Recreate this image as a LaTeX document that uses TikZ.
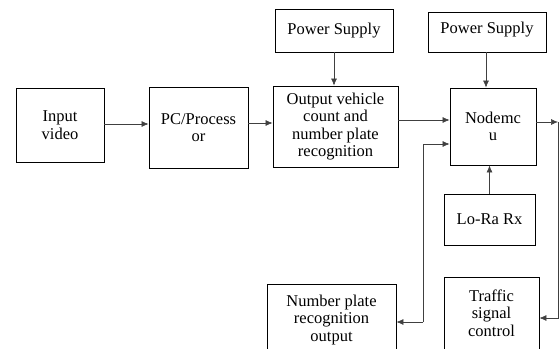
\documentclass[tikz,border=0pt]{standalone}
\usepackage{fontspec}
\setmainfont{Liberation Serif}
\usetikzlibrary{arrows.meta}
\begin{document}
\begin{tikzpicture}[x=1pt,y=-1pt]
	\tikzstyle{block}=[draw=black,line width=0.9pt,align=center,inner sep=0pt,font=\fontsize{16.5}{17.6}\selectfont]
	\tikzstyle{wire}=[draw=black!75,line width=0.6pt,-{Latex[length=7pt,width=6pt]}]
	\clip (0,0) rectangle (559,348);
	% blocks
	\node [block,minimum width=88pt,minimum height=74pt] (input) at (60,125) {Input\\video};
	\node [block,minimum width=99pt,minimum height=81pt] (pc) at (198.5,127.5) {PC/Process\\or};
	\node [block,minimum width=125pt,minimum height=81pt] (out) at (335.5,126.5) {Output vehicle\\count and\\number plate\\recognition};
	\node [block,minimum width=118pt,minimum height=43pt] (psa) at (334,30.5) {Power Supply};
	\node [block,minimum width=118pt,minimum height=40pt,text depth=8pt] (psb) at (487,32) {Power Supply};
	\node [block,minimum width=86pt,minimum height=77pt] (mcu) at (493,126.5) {Nodemc\\u};
	\node [block,minimum width=91pt,minimum height=51pt] (lora) at (489.5,219.5) {Lo-Ra Rx};
	\node [block,minimum width=129pt,minimum height=72pt] (npr) at (331.5,320) {Number plate\\recognition\\output};
	\node [block,minimum width=95pt,minimum height=72pt] (tsc) at (491.5,313) {Traffic\\signal\\control};
	% corners of the return lines
	\coordinate (mcuout) at (558,122);
	\coordinate (split) at (423,322);
	% connectors
	\draw [wire] (input.east |- 0,124) -- (pc.west |- 0,124);
	\draw [wire] (pc.east |- 0,123) -- (out.west |- 0,123);
	\draw [wire] (out.east |- 0,120) -- (mcu.west |- 0,120);
	\draw [wire] (psa) -- (psa |- out.north) ;
	\draw [wire] (psb.south -| 486,0) -- (mcu.north -| 486,0);
	\draw [wire] (lora.north) -- (mcu.south -| lora.north);
	\draw [wire] (mcu.east |- mcuout) -- (mcuout);
	\draw [wire] (mcuout) |- (tsc.east |- 0,318);
	\draw [wire] (split) |- (mcu.west |- 0,144);
	\draw [wire] (split) -- (npr.east |- split);
\end{tikzpicture}
\end{document}
